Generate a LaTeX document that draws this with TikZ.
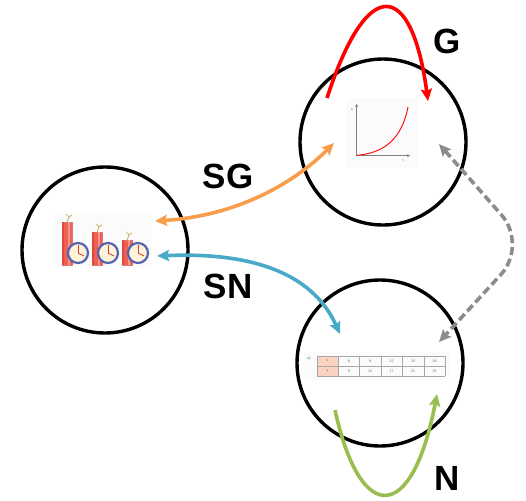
\documentclass[tikz,border=0pt]{standalone}
\usepackage{fontspec}
\setmainfont{Liberation Sans}
\usetikzlibrary{arrows.meta}
\definecolor{sgorange}{RGB}{247,157,75}
\definecolor{snblue}{RGB}{72,170,200}
\definecolor{ngreen}{RGB}{152,190,80}
\definecolor{dashgray}{RGB}{140,140,140}
\definecolor{cellorange}{RGB}{250,212,192}
\definecolor{stickred}{RGB}{240,95,80}
\definecolor{stickdark}{RGB}{205,60,50}
\definecolor{clockring}{RGB}{85,100,175}
\definecolor{clockface}{RGB}{255,244,218}
\definecolor{fusegold}{RGB}{200,170,90}
\begin{document}
\begin{tikzpicture}[x=1pt,y=-1pt,
  topic/.style={circle,draw=black,line width=3.4pt,minimum size=166pt,inner sep=0pt},
  tag/.style={font=\fontsize{35}{40}\selectfont\bfseries,inner sep=0pt},
  link/.style={line width=3.6pt,{Stealth[length=12pt,width=11pt,inset=2pt]}-{Stealth[length=12pt,width=11pt,inset=2pt]}},
  selfloop/.style={line width=3.6pt,-{Stealth[length=12pt,width=11pt,inset=2pt]}},
  cell/.style={draw=gray!70,line width=0.4pt},
  celltext/.style={font=\fontsize{3.6}{4}\selectfont,text=gray!80!black,inner sep=0pt},
  stick/.style={fill=stickred,draw=stickdark!70,line width=0.3pt},
  clock/.style={circle,draw=clockring,fill=clockface,line width=2.2pt,minimum size=20pt,inner sep=0pt},
]
\useasboundingbox (0,0) rectangle (526,500);

% the three topic circles
\node[topic] (L)  at (105,250) {};
\node[topic] (TR) at (383,142) {};
\node[topic] (BR) at (380,363) {};

% ---- dynamite sticks with clocks ----
\fill[gray!3] (55,213) rectangle (152,268);
\foreach \x/\t in {62/222,92/232,122/240}{
  \draw[stick] (\x,\t) rectangle (\x+10,265);
  \fill[stickdark!60!stickred] (\x,\t) rectangle (\x+2,265);
  \fill[white,opacity=0.35] (\x+6,\t) rectangle (\x+7.5,265);
  \draw[fusegold,line width=0.8pt] (\x+5,\t) -- (\x+7,\t-5) -- (\x+10,\t-7);
  \draw[fusegold,line width=0.5pt] (\x+7,\t-5) -- (\x+4,\t-8);
}
\foreach \c in {78,108,138}{
  \node[clock] (ck\c) at (\c,253) {};
  \draw[stickdark,line width=0.8pt] (\c,253) -- (\c,245);
  \draw[stickdark,line width=0.8pt] (\c,253) -- (\c+6,256);
}

% ---- distance-time graph ----
\fill[gray!3] (347,98) rectangle (418,168);
\draw[gray,line width=0.6pt,-{Stealth[length=3pt,width=3pt]}] (356.7,155.7) -- (356.7,104);
\draw[gray,line width=0.6pt,-{Stealth[length=3pt,width=3pt]}] (356.7,155.7) -- (410,155.7);
\node[celltext] (sax) at (352,110) {s};
\node[celltext] (tax) at (403,160) {t};
\draw[red,line width=0.9pt] (357,155.3) .. controls (385,153) and (402,138) .. (408,107);

% ---- value table ----
\fill[gray!3] (304,352) rectangle (449,380);
\fill[cellorange] (316.7,356) rectangle (338.3,376);
\foreach \xa in {316.7,338.3,359.3,380.7,402.3,424,445}
  \draw[cell] (\xa,356) -- (\xa,376);
\foreach \ya in {356,366,376}
  \draw[cell] (316.7,\ya) -- (445,\ya);
\node[celltext] (ta) at (309,359) {a)};
\node[celltext] at (327.5,361) {x};
\node[celltext] at (327.5,371) {y};
\foreach \xa/\va/\vb in {348.8/6/9,370/9/13,391.5/12/17,413.1/15/21,434.5/18/25}{
  \node[celltext] at (\xa,361) {\va};
  \node[celltext] at (\xa,371) {\vb};
}

% ---- connector end points ----
\coordinate (sgL) at (155,221);
\coordinate (sgR) at (334,143);
\coordinate (snL) at (157,256);
\coordinate (snR) at (340,334);
\coordinate (gaT) at (439,144);
\coordinate (gaB) at (439,342);
\coordinate (gS) at (327,98);
\coordinate (gE) at (428,101);
\coordinate (nS) at (335,410);
\coordinate (nE) at (437,394);

% ---- connectors ----
\draw[link,sgorange] (sgL) .. controls (235,216) and (292,185) .. (sgR);
\draw[link,snblue] (snL) .. controls (250,252) and (312,272) .. (snR);
\draw[link,dashgray,dash pattern=on 8pt off 4pt,rounded corners=40pt] (gaT) -- (528,245) -- (gaB);
\draw[selfloop,red] (gS) .. controls (368,-28) and (412,-18) .. (gE);
\draw[selfloop,ngreen] (nS) .. controls (360,525) and (412,525) .. (nE);

% ---- labels ----
\node[tag] (G)  at (447,41)  {G};
\node[tag] (SG) at (228,176) {SG};
\node[tag] (SN) at (228,286) {SN};
\node[tag] (N)  at (447,478) {N};
\end{tikzpicture}
\end{document}
